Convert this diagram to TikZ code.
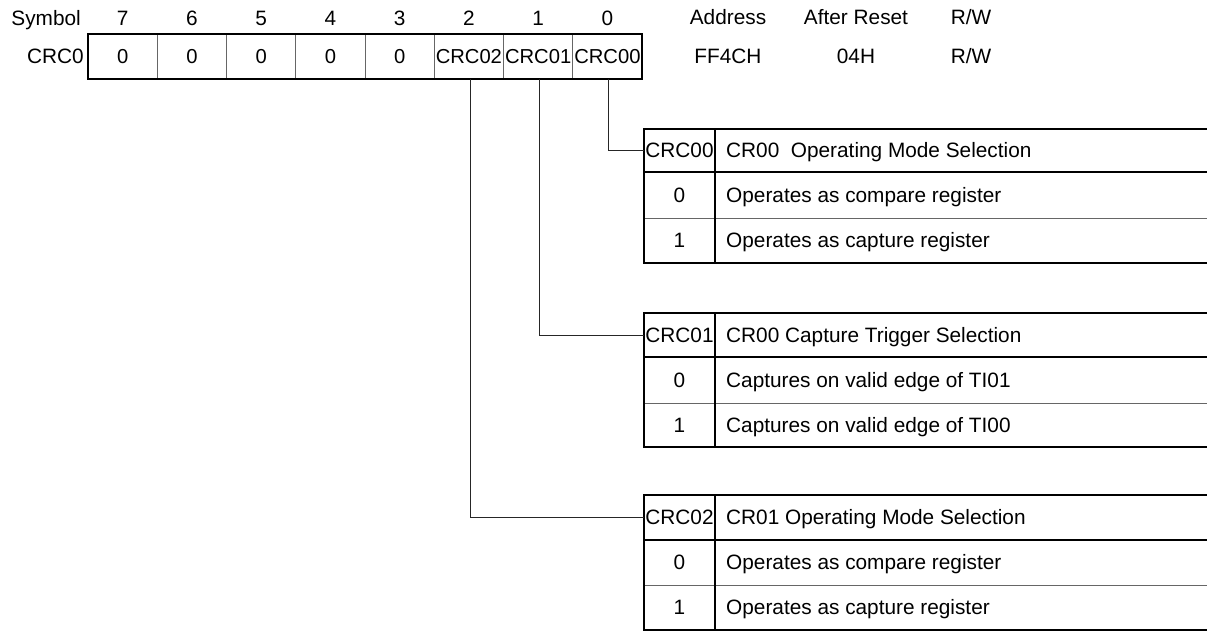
\documentclass[tikz,border=0pt]{standalone}
\usepackage{fontspec}
\setmainfont{Liberation Sans}
\newcommand\bittable[9]{%
  \node[txt,minimum width=71pt] (#1k) at (679.5,{(#2+#3)/2}) {#6};
  \node[txt,anchor=west] (#1t) at (726,{(#2+#3)/2}) {#7};
  \node[txt,minimum width=71pt] (#1k0) at (679.5,{(#3+#4)/2}) {0};
  \node[txt,anchor=west] (#1d0) at (726,{(#3+#4)/2}) {#8};
  \node[txt,minimum width=71pt] (#1k1) at (679.5,{(#4+#5)/2}) {1};
  \node[txt,anchor=west] (#1d1) at (726,{(#4+#5)/2}) {#9};
  \draw[thinln] (644,#4) -- (1207,#4);
  \draw[thickln] (1207,#2) -- (644,#2) -- (644,#5) -- (1207,#5);
  \draw[thickln] (644,#3) -- (1207,#3);
  \draw[thickln] (715,#2) -- (715,#5);
}
\begin{document}
\begin{tikzpicture}[x=1pt,y=-1pt,
  txt/.style={font=\fontsize{20.8}{24}\selectfont, inner sep=0pt, text height=14.9pt, text depth=0pt},
  keytxt/.style={txt, font=\fontsize{20.2}{24}\selectfont},
  cell/.style={keytxt, minimum width=69.25pt, minimum height=45pt},
  thickln/.style={line width=2.5pt},
  thinln/.style={line width=1pt, draw=black!60},
  conn/.style={line width=1pt, draw=black!85}]
\useasboundingbox (0,0) rectangle (1207,632);
% header row
\node[txt,anchor=east] (sym) at (81,18) {Symbol};
\node[txt,anchor=east] (reg) at (84,56.5) {CRC0};
\foreach \b/\t [count=\i from 0] in {7/0,6/0,5/0,4/0,3/0,2/CRC02,1/CRC01,0/CRC00} {
  \node[cell] (r\b) at ({88+69.25*(\i+0.5)},56.5) {\t};
  \node[txt] (h\b) at ({88+69.25*(\i+0.5)},18) {\b};
}
\foreach \b in {7,6,5,4,3,2,1} {
  \draw[thinln] (r\b.north east) -- (r\b.south east);
}
\draw[thickln] (r7.north west) rectangle (r0.south east);
\node[txt] (addrh) at (728,17) {Address};
\node[txt] (rsth) at (856,17) {After Reset};
\node[txt] (rwh) at (971,17) {R/W};
\node[txt] (addr) at (728,56.5) {FF4CH};
\node[txt] (rst) at (856,56.5) {04H};
\node[txt] (rw) at (971,56.5) {R/W};
% tables
\bittable{ta}{129}{172}{218}{263}{CRC00}{CR00\ \ Operating Mode Selection}{Operates as compare register}{Operates as capture register}
\bittable{tb}{313}{357}{403}{447}{CRC01}{CR00 Capture Trigger Selection}{Captures on valid edge of TI01}{Captures on valid edge of TI00}
\bittable{tc}{495}{540}{585}{630}{CRC02}{CR01 Operating Mode Selection}{Operates as compare register}{Operates as capture register}
% connectors
\draw[conn] ([xshift=1.5pt]r0.south) |- (tak.west);
\draw[conn] ([xshift=1.5pt]r1.south) |- (tbk.west);
\draw[conn] ([xshift=1.5pt]r2.south) |- (tck.west);
\end{tikzpicture}
\end{document}
